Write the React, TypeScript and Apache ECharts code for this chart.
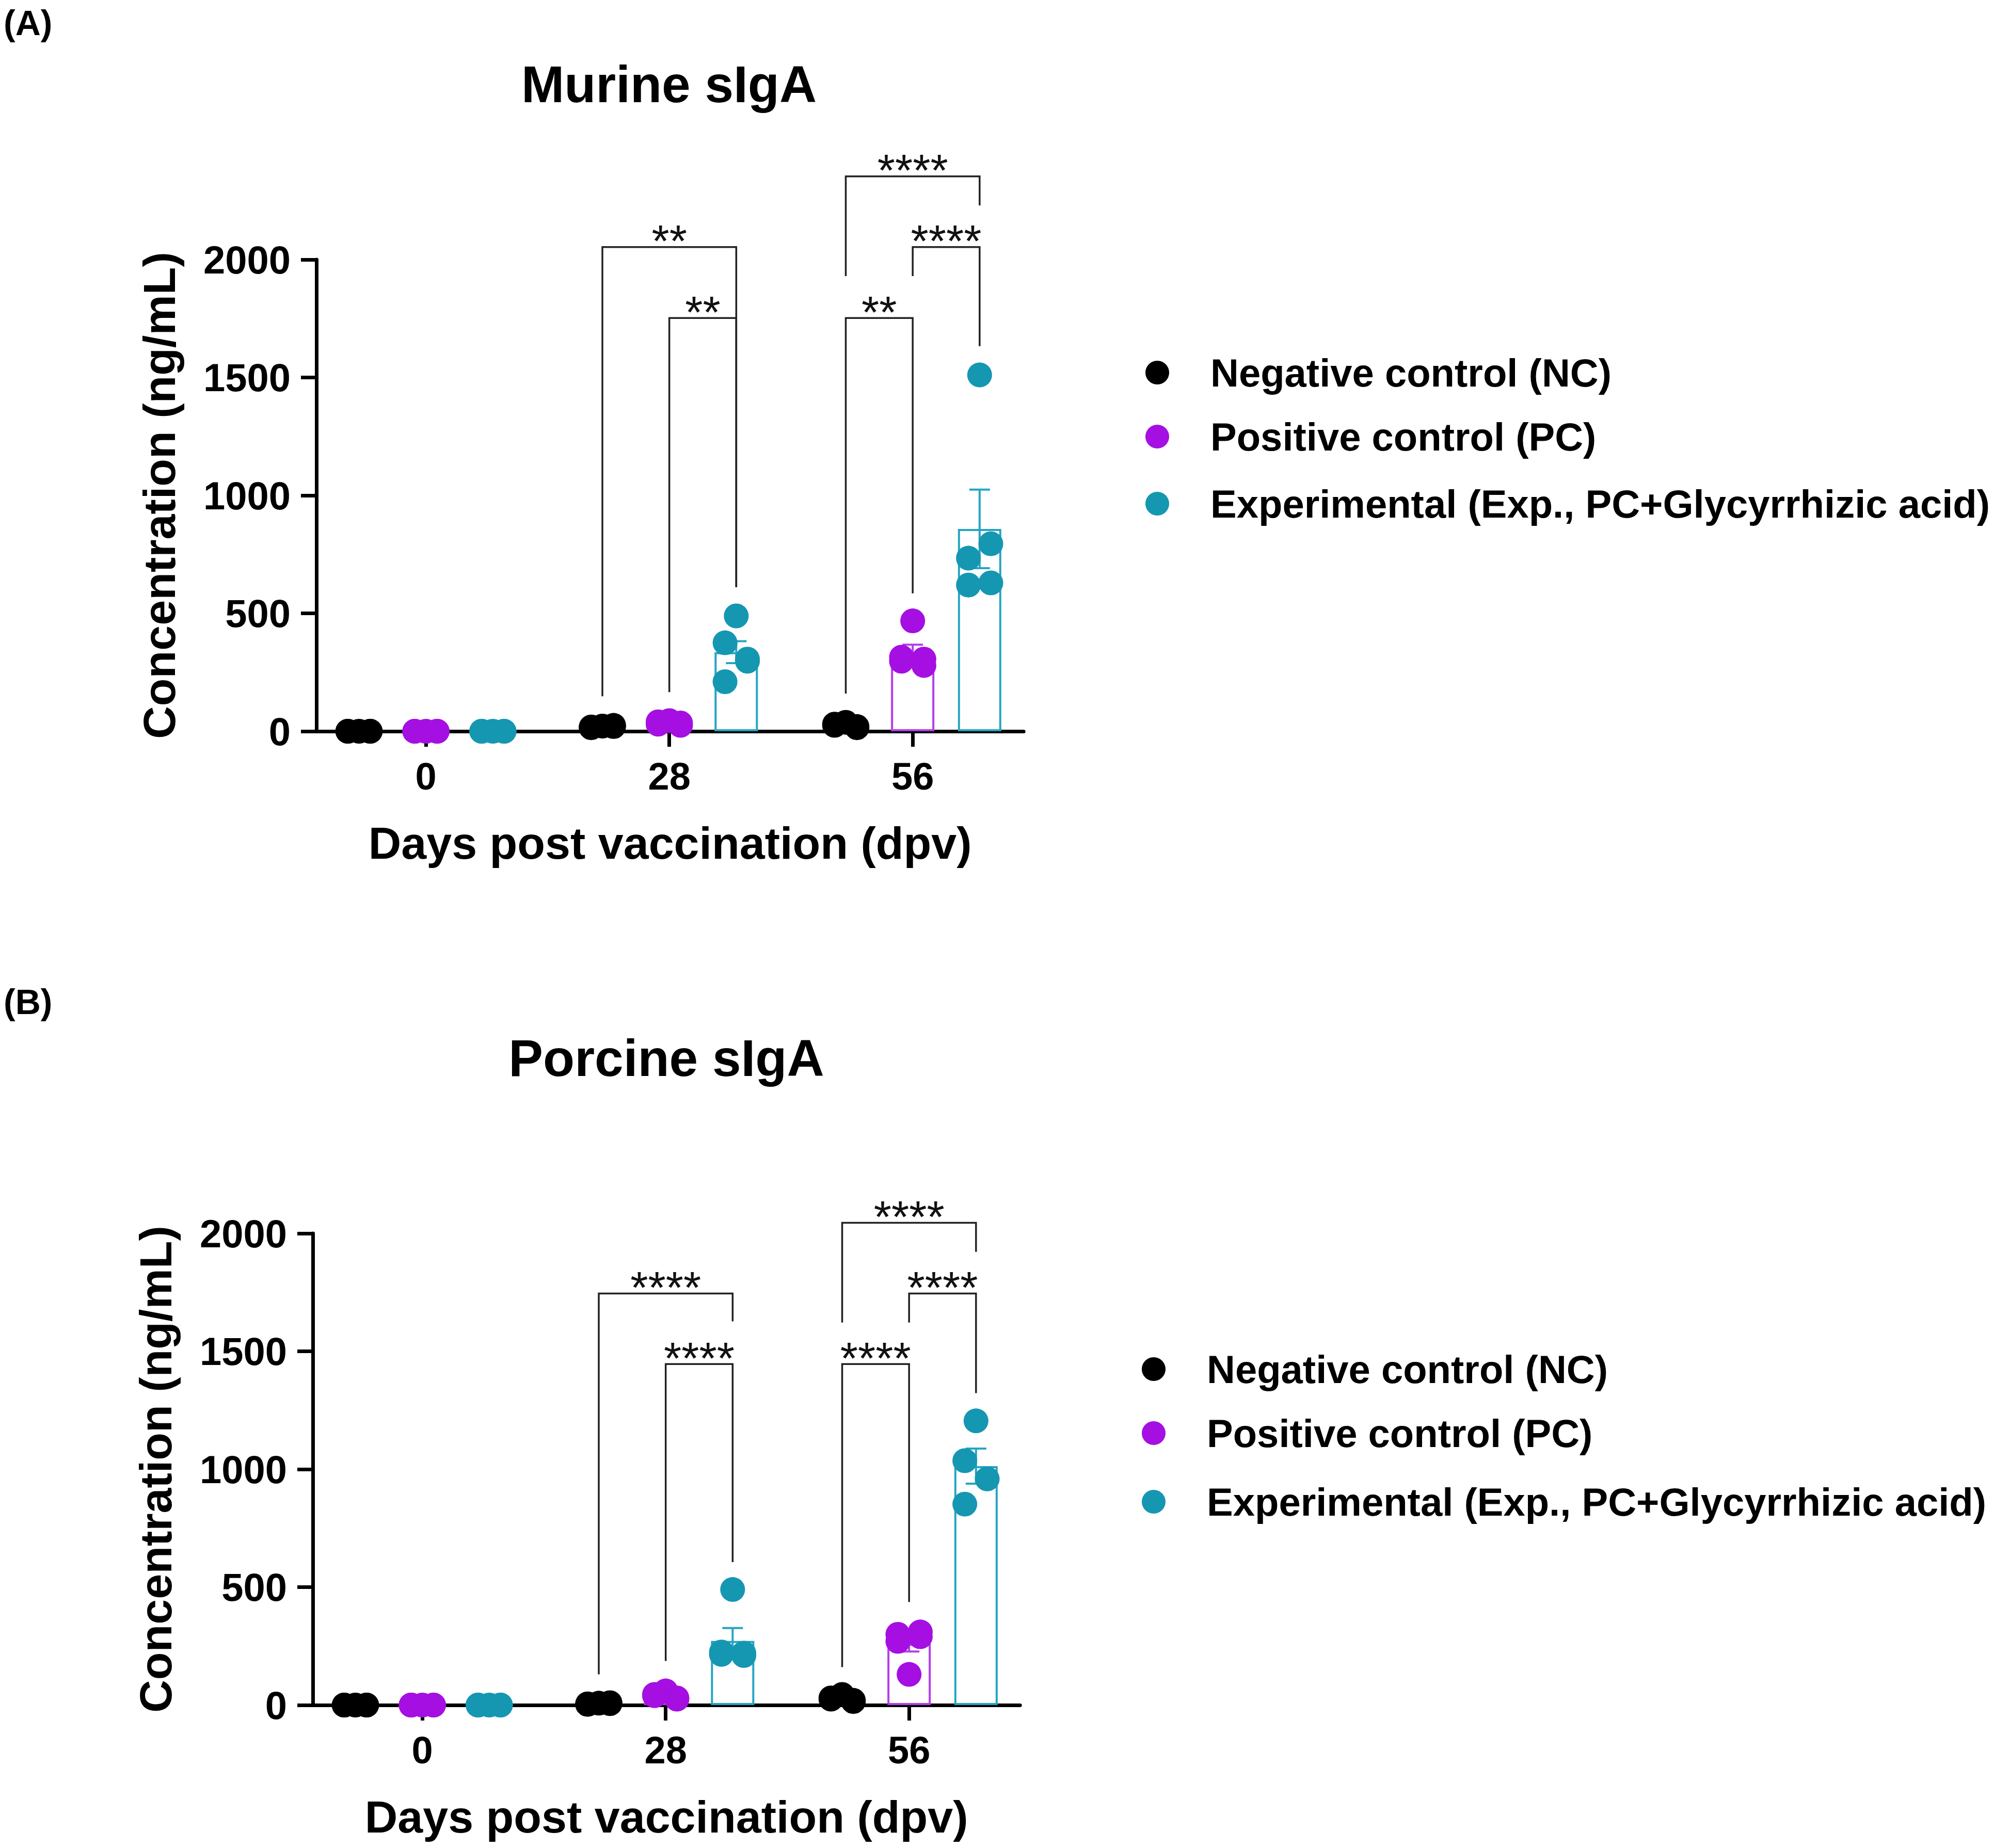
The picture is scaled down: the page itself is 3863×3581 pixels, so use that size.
import React, { useEffect, useRef } from 'react';
import * as echarts from 'echarts';

// ---------- data ----------
const DAYS = ['0', '28', '56'];
const GROUP_NAMES = [
  'Negative control (NC)',
  'Positive control (PC)',
  'Experimental (Exp., PC+Glycyrrhizic acid)',
];
const Y_TICKS = [0, 500, 1000, 1500, 2000];

// Murine sIgA (ng/mL), per day: [0, 28, 56]
const murineNC = [[0, 0, 0, 0, 0], [22, 15, 25, 18, 20], [38, 25, 20, 30, 15]];
const murinePC = [[0, 0, 0, 0, 0], [45, 30, 25, 40, 35], [468, 314, 306, 297, 279]];
const murineExp = [[0, 0, 0, 0, 0], [489, 375, 306, 210, 297], [1511, 734, 795, 620, 629]];

// Porcine sIgA (ng/mL)
const porcineNC = [[0, 0, 0, 0, 0], [8, 5, 10, 3, 6], [45, 25, 20, 30, 15]];
const porcinePC = [[0, 0, 0, 0, 0], [60, 45, 30, 40, 25], [130, 300, 310, 270, 290]];
const porcineExp = [[0, 0, 0, 0, 0], [490, 225, 220, 215, 210], [1205, 1036, 959, 852]];

// significance brackets: [day index, left group, right group, top, left leg end, right leg end]
const murineBrackets = [
  [1, 0, 2, 2053, 148, 611],
  [1, 1, 2, 1752, 166, 611],
  [2, 0, 1, 1752, 160, 585],
  [2, 1, 2, 2053, 1930, 1633],
  [2, 0, 2, 2353, 1930, 2230],
];
const murineStars = ['**', '**', '**', '****', '****'];
const porcineBrackets = [
  [1, 0, 2, 1745, 130, 1627],
  [1, 1, 2, 1446, 187, 606],
  [2, 0, 1, 1446, 161, 437],
  [2, 1, 2, 1745, 1622, 1323],
  [2, 0, 2, 2045, 1622, 1922],
];
const porcineStars = ['****', '****', '****', '****', '****'];

// ---------- style ----------
const W = 3863;
const H = 3581;
const FONT = '"Liberation Sans", Arial, Helvetica, sans-serif';
const DOT_COLORS = ['#000000', '#a50fe2', '#1597b2'];
const BAR_COLORS = ['#000000', '#b23ee8', '#26a5c2'];
const OFFSET = 0.275;
const JITTER = [0, -0.046, 0.046, -0.046, 0.046];
const X_MIN = -0.45;
const X_MAX = 2.456;
const UNIT_PX = 471.5;
const GRID_W = (X_MAX - X_MIN) * UNIT_PX;
const GRID_H = 914;

const mean = (a: number[]) => a.reduce((s, v) => s + v, 0) / a.length;
const sem = (a: number[]) => {
  const m = mean(a);
  const v = a.reduce((s, x) => s + (x - m) * (x - m), 0) / (a.length - 1);
  return Math.sqrt(v) / Math.sqrt(a.length);
};
const xPos = (day: number, grp: number) => day + (grp - 1) * OFFSET;

type Layout = {
  gridLeft: number;
  gridTop: number;
  title: string;
  titleX: number;
  titleY: number;
  tag: string;
  tagY: number;
  legDotX: number;
  legTextX: number;
  legRows: number[];
};

function buildPanel(
  idx: number,
  groups: number[][][],
  brackets: number[][],
  stars: string[],
  L: Layout
) {
  const grid = { left: L.gridLeft, top: L.gridTop, width: GRID_W, height: GRID_H };
  const xAxis = {
    type: 'value',
    gridIndex: idx,
    min: X_MIN,
    max: X_MAX,
    splitLine: { show: false },
    axisLine: { show: true, onZero: false, lineStyle: { color: '#000', width: 7 } },
    axisTick: { show: true, customValues: [0, 1, 2], length: 30, lineStyle: { color: '#000', width: 7 } },
    axisLabel: {
      customValues: [0, 1, 2],
      formatter: (v: number) => DAYS[Math.round(v)],
      margin: 50,
      fontSize: 74,
      fontWeight: 'bold',
      fontFamily: FONT,
      color: '#000',
    },
    name: 'Days post vaccination (dpv)',
    nameLocation: 'middle',
    nameGap: 172,
    nameTextStyle: { fontSize: 88, fontWeight: 'bold', fontFamily: FONT, color: '#000' },
  };
  const yAxis = {
    type: 'value',
    gridIndex: idx,
    min: Y_TICKS[0],
    max: Y_TICKS[Y_TICKS.length - 1],
    interval: 500,
    splitLine: { show: false },
    axisLine: { show: true, onZero: false, lineStyle: { color: '#000', width: 7 } },
    axisTick: { show: true, length: 30, lineStyle: { color: '#000', width: 7 } },
    axisLabel: {
      margin: 50,
      fontSize: 76,
      fontWeight: 'bold',
      fontFamily: FONT,
      color: '#000',
      formatter: (v: number) => String(v),
    },
    name: 'Concentration (ng/mL)',
    nameLocation: 'middle',
    nameGap: 261,
    nameTextStyle: { fontSize: 88, fontWeight: 'bold', fontFamily: FONT, color: '#000' },
  };

  const series: any[] = [];
  // bars (mean)
  const barData: any[] = [];
  const errData: number[][] = [];
  groups.forEach((g, gi) => {
    g.forEach((vals, di) => {
      barData.push({
        value: [xPos(di, gi), mean(vals)],
        itemStyle: { color: 'rgba(255,255,255,0)', borderColor: BAR_COLORS[gi], borderWidth: 4 },
      });
      errData.push([xPos(di, gi), mean(vals), sem(vals), gi]);
    });
  });
  series.push({
    type: 'bar',
    name: 'mean' + idx,
    xAxisIndex: idx,
    yAxisIndex: idx,
    barWidth: 84,
    data: barData,
    z: 2,
  });
  series.push({
    type: 'custom',
    name: 'sem' + idx,
    xAxisIndex: idx,
    yAxisIndex: idx,
    clip: false,
    z: 3,
    data: errData,
    renderItem: (params: any, api: any) => {
      const x = api.value(0);
      const m = api.value(1);
      const s = api.value(2);
      const c = BAR_COLORS[api.value(3)];
      const lo = api.coord([x, m - s]);
      const hi = api.coord([x, m + s]);
      const hw = 20;
      const st = { stroke: c, lineWidth: 4 };
      return {
        type: 'group',
        children: [
          { type: 'line', shape: { x1: lo[0], y1: lo[1], x2: hi[0], y2: hi[1] }, style: st },
          { type: 'line', shape: { x1: hi[0] - hw, y1: hi[1], x2: hi[0] + hw, y2: hi[1] }, style: st },
          { type: 'line', shape: { x1: lo[0] - hw, y1: lo[1], x2: lo[0] + hw, y2: lo[1] }, style: st },
        ],
      };
    },
  });
  // dots
  groups.forEach((g, gi) => {
    const pts: number[][] = [];
    g.forEach((vals, di) => {
      vals.forEach((v, k) => pts.push([xPos(di, gi) + JITTER[k % JITTER.length], v]));
    });
    series.push({
      type: 'scatter',
      name: GROUP_NAMES[gi],
      xAxisIndex: idx,
      yAxisIndex: idx,
      symbol: 'circle',
      symbolSize: 48,
      itemStyle: { color: DOT_COLORS[gi], opacity: 1 },
      data: pts,
      z: 4,
    });
  });
  // brackets
  series.push({
    type: 'custom',
    name: 'sig' + idx,
    xAxisIndex: idx,
    yAxisIndex: idx,
    clip: false,
    z: 5,
    data: brackets.map((b) => [xPos(b[0], b[1]), xPos(b[0], b[2]), b[3], b[4], b[5]]),
    renderItem: (params: any, api: any) => {
      const x1 = api.value(0);
      const x2 = api.value(1);
      const top = api.value(2);
      const pL = api.coord([x1, api.value(3)]);
      const pTL = api.coord([x1, top]);
      const pTR = api.coord([x2, top]);
      const pR = api.coord([x2, api.value(4)]);
      return {
        type: 'group',
        children: [
          {
            type: 'polyline',
            shape: { points: [pL, pTL, pTR, pR] },
            style: { stroke: '#222', lineWidth: 3.5, fill: null },
          },
          {
            type: 'text',
            x: (pTL[0] + pTR[0]) / 2,
            y: pTL[1] - 12,
            style: {
              text: stars[params.dataIndex],
              fontSize: 88,
              fontWeight: 'normal',
              fontFamily: FONT,
              fill: '#111',
              align: 'center',
              verticalAlign: 'middle',
            },
          },
        ],
      };
    },
  });

  const graphics: any[] = [
    {
      type: 'text',
      x: 7,
      y: L.tagY,
      style: { text: L.tag, fontSize: 68, fontWeight: 'bold', fontFamily: FONT, fill: '#000', align: 'left', verticalAlign: 'middle' },
    },
    {
      type: 'text',
      x: L.titleX,
      y: L.titleY,
      style: { text: L.title, fontSize: 100, fontWeight: 'bold', fontFamily: FONT, fill: '#000', align: 'center', verticalAlign: 'middle' },
    },
  ];
  GROUP_NAMES.forEach((n, gi) => {
    graphics.push({
      type: 'circle',
      shape: { cx: L.legDotX, cy: L.legRows[gi], r: 23 },
      style: { fill: DOT_COLORS[gi] },
    });
    graphics.push({
      type: 'text',
      x: L.legTextX,
      y: L.legRows[gi],
      style: { text: n, fontSize: 76, fontWeight: 'bold', fontFamily: FONT, fill: '#000', align: 'left', verticalAlign: 'middle' },
    });
  });
  return { grid, xAxis, yAxis, series, graphics };
}

export default function App() {
  const ref = useRef<HTMLDivElement>(null);
  useEffect(() => {
    document.body.style.margin = '0';
    if (!ref.current) return;
    const chart = echarts.init(ref.current, undefined, { renderer: 'svg', width: W, height: H });
    const A = buildPanel(0, [murineNC, murinePC, murineExp], murineBrackets, murineStars, {
      gridLeft: 613,
      gridTop: 503,
      title: 'Murine sIgA',
      titleX: 1296,
      titleY: 163,
      tag: '(A)',
      tagY: 44,
      legDotX: 2242,
      legTextX: 2345,
      legRows: [722, 846, 976],
    });
    const B = buildPanel(1, [porcineNC, porcinePC, porcineExp], porcineBrackets, porcineStars, {
      gridLeft: 606,
      gridTop: 2390,
      title: 'Porcine sIgA',
      titleX: 1291,
      titleY: 2050,
      tag: '(B)',
      tagY: 1941,
      legDotX: 2235,
      legTextX: 2338,
      legRows: [2653, 2777, 2910],
    });
    chart.setOption({
      animation: false,
      backgroundColor: '#ffffff',
      grid: [A.grid, B.grid],
      xAxis: [A.xAxis, B.xAxis],
      yAxis: [A.yAxis, B.yAxis],
      series: [...A.series, ...B.series],
      graphic: [...A.graphics, ...B.graphics],
    });
    return () => chart.dispose();
  }, []);
  return <div ref={ref} style={{ width: W, height: H }} />;
}
